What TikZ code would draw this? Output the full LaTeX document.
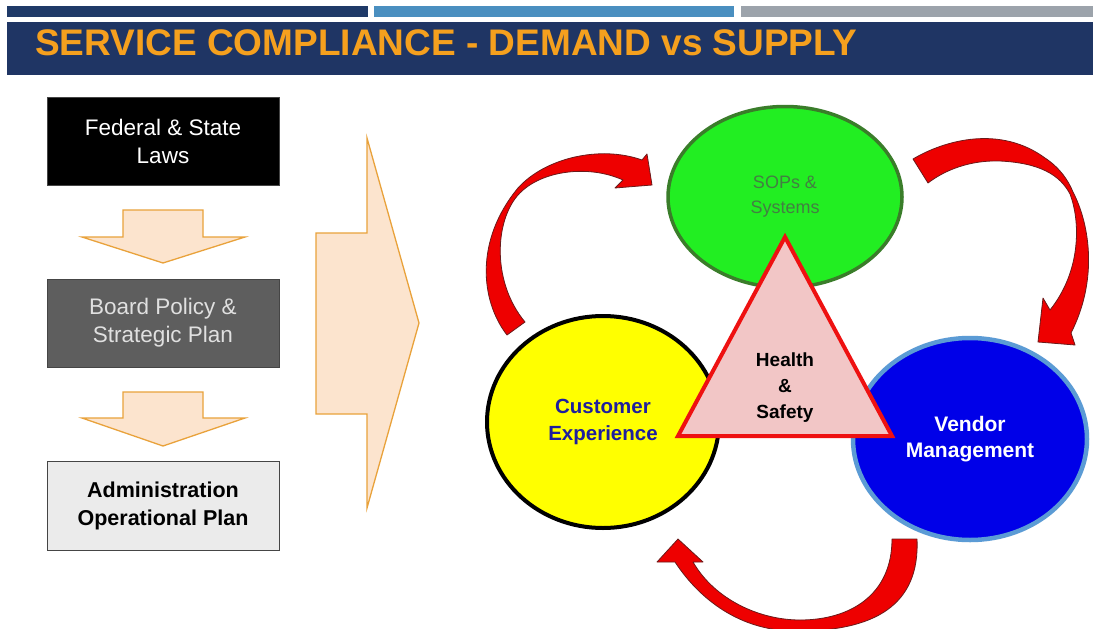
\documentclass[tikz,border=0pt]{standalone}
\usepackage{fontspec}
\setmainfont{Liberation Sans}
\usetikzlibrary{shapes.geometric}

\definecolor{barnavy}{HTML}{1F3A68}
\definecolor{barblue}{HTML}{4A8FC0}
\definecolor{bargray}{HTML}{9CA3AB}
\definecolor{titlebg}{HTML}{1F3564}
\definecolor{titletext}{HTML}{F5A01E}
\definecolor{peachfill}{HTML}{FCE4CE}
\definecolor{peachline}{HTML}{E9A23B}
\definecolor{boardfill}{HTML}{5E5E5E}
\definecolor{boardtext}{HTML}{E0E0E0}
\definecolor{adminfill}{HTML}{EBEBEB}
\definecolor{adminline}{HTML}{454545}
\definecolor{sopgreen}{HTML}{22EE22}
\definecolor{sopborder}{HTML}{3A7D2A}
\definecolor{soptext}{HTML}{437F43}
\definecolor{custyellow}{HTML}{FFFF00}
\definecolor{custtext}{HTML}{1E1E9E}
\definecolor{vendblue}{HTML}{0000E8}
\definecolor{vendborder}{HTML}{5B9BD5}
\definecolor{hsfill}{HTML}{F2C6C6}
\definecolor{hsline}{HTML}{EE1111}
\definecolor{curlred}{HTML}{EE0000}
\definecolor{curldark}{HTML}{6B1A1A}

\begin{document}
\begin{tikzpicture}[x=1pt,y=-1pt,
  box/.style={draw, rectangle, minimum width=232pt, minimum height=88pt,
    inner sep=0pt, align=center, line width=1pt},
  peach/.style={fill=peachfill, draw=peachline, line width=1.3pt, line join=miter},
  bubble/.style={ellipse, inner sep=0pt, align=center},
  curl/.style={fill=curlred, draw=curldark, line width=0.8pt, line join=round},
]
\useasboundingbox (0,0) rectangle (1093,629);
\fill[white] (0,0) rectangle (1093,629);

% header bars and title band
\fill[barnavy] (7,6) rectangle (368,17);
\fill[barblue] (374,6) rectangle (734,17);
\fill[bargray] (741,6) rectangle (1093,17);
\fill[titlebg] (7,22) rectangle (1093,75);
\node[anchor=base west, inner sep=0pt, text=titletext,
  font=\fontsize{37pt}{40pt}\selectfont\bfseries] (title) at (35,55)
  {SERVICE COMPLIANCE - DEMAND vs SUPPLY};

% left column of boxes
\node[box, fill=black, draw=adminline, text=white,
  font=\fontsize{22.5pt}{28pt}\selectfont] (laws) at (163,141)
  {Federal \& State\\Laws};
\node[box, fill=boardfill, draw=adminline, text=boardtext,
  font=\fontsize{22.5pt}{28pt}\selectfont] (board) at (163,323)
  {Board Policy \&\\Strategic Plan};
\node[box, fill=adminfill, draw=adminline, text=black, minimum height=89pt,
  font=\fontsize{21.5pt}{28pt}\selectfont\bfseries] (admin) at (163,505.5)
  {Administration\\Operational Plan};

% block arrows between the boxes
\draw[peach] (123,210) -- (203,210) -- (203,237) -- (245,237) -- (163,263)
  -- (82,237) -- (123,237) -- cycle;
\draw[peach] (123,392) -- (203,392) -- (203,418) -- (245,418) -- (163,446)
  -- (82,418) -- (123,418) -- cycle;

% large arrow to the right
\draw[peach] (316,233) -- (367,233) -- (367,138) -- (419,323) -- (367,508)
  -- (367,414) -- (316,414) -- cycle;

% three bubbles
\node[bubble, minimum width=234pt, minimum height=181pt, fill=sopgreen,
  draw=sopborder, line width=3.5pt, text=soptext,
  font=\fontsize{18pt}{25pt}\selectfont] (sops) at (785,197)
  {SOPs \&\\Systems};
\node[bubble, minimum width=232pt, minimum height=212pt, fill=custyellow,
  draw=black, line width=4pt, text=custtext,
  font=\fontsize{20.5pt}{27pt}\selectfont\bfseries] (cust) at (603,422)
  {Customer\\Experience};
\node[bubble, minimum width=234pt, minimum height=202pt, fill=vendblue,
  draw=vendborder, line width=4.5pt, text=white,
  font=\fontsize{21pt}{26pt}\selectfont\bfseries] (vend) at (970,439)
  {Vendor\\Management};

% central triangle
\coordinate (hsTop) at (785,237);
\coordinate (hsLeft) at (678,436);
\coordinate (hsRight) at (892,436);
\draw[fill=hsfill, draw=hsline, line width=4pt, line join=miter]
  (hsTop) -- (hsRight) -- (hsLeft) -- cycle;
\node[align=center, inner sep=0pt,
  font=\fontsize{19pt}{26pt}\selectfont\bfseries] (hs) at (785,388)
  {Health\\\&\\Safety};

% curved red arrows around the bubbles (twisted ribbons)
\filldraw[curl]
  (507,335) .. controls (480,300) and (475,240) .. (518,188)
  .. controls (545,158) and (600,145) .. (642,160)
  -- (647,154) -- (652,185) -- (615,188) -- (623,180)
  .. controls (590,165) and (545,170) .. (522,191)
  .. controls (495,215) and (490,280) .. (525,322)
  -- cycle;

\filldraw[curl]
  (913,159) .. controls (945,140) and (1000,125) .. (1045,158)
  .. controls (1060,168) and (1068,180) .. (1073,192)
  .. controls (1090,225) and (1098,280) .. (1071,333)
  -- (1075,345) -- (1038,342) -- (1043,298) -- (1050,310)
  .. controls (1082,270) and (1080,220) .. (1070,194)
  .. controls (1060,175) and (1040,163) .. (1000,161)
  .. controls (970,160) and (945,170) .. (928,183)
  -- cycle;

\filldraw[curl]
  (917,539) .. controls (920,605) and (875,632) .. (793,631)
  .. controls (740,630) and (700,600) .. (675,562)
  -- (657,562) -- (678,539) -- (703,562) -- (693,562)
  .. controls (715,600) and (760,620) .. (800,620)
  .. controls (850,620) and (892,595) .. (892,539)
  -- cycle;
\end{tikzpicture}
\end{document}
